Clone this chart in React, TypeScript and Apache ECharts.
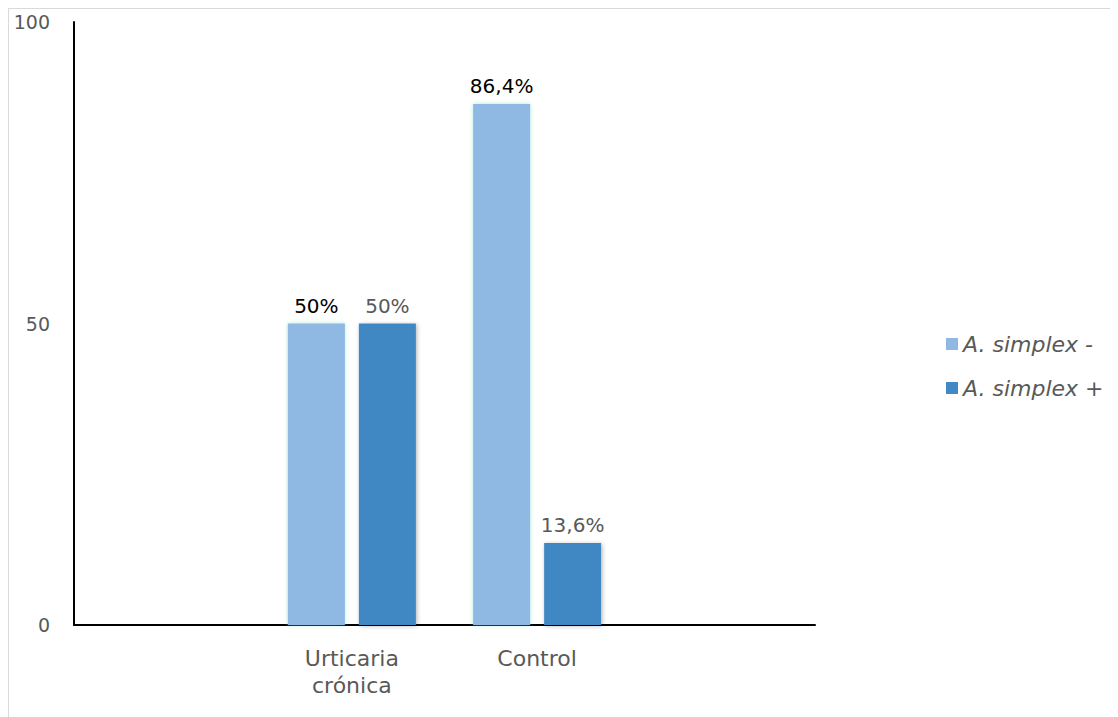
import React, { useEffect, useRef } from "react";
import * as echarts from "echarts";

const categories = ["", "Urticaria\ncrónica", "Control", ""];
const seriesNames = ["A. simplex -", "A. simplex +"];
const negValues: (number | null)[] = [null, 50, 86.4, null];
const posValues: (number | null)[] = [null, 50, 13.6, null];
const yTicks = { min: 0, max: 100, interval: 50 };

const FONT = "'DejaVu Sans', 'Noto Sans', sans-serif";

const fmt = (p: any) =>
  p.value == null ? "" : String(p.value).replace(".", ",") + "%";

export default function App() {
  const ref = useRef<HTMLDivElement>(null);
  useEffect(() => {
    if (!ref.current) return;
    const chart = echarts.init(ref.current, undefined, { renderer: "svg" });
    chart.setOption({
      animation: false,
      backgroundColor: "#ffffff",
      grid: { left: 65, top: 13, right: 303, bottom: 92, containLabel: false },
      legend: {
        orient: "vertical",
        left: 932,
        top: 318,
        itemWidth: 12,
        itemHeight: 12,
        itemGap: 20,
        icon: "rect",
        textStyle: {
          fontFamily: FONT,
          fontSize: 22,
          fontStyle: "italic",
          color: "#595959",
          lineHeight: 24,
        },
        data: seriesNames,
      },
      xAxis: {
        type: "category",
        data: categories,
        axisLine: { lineStyle: { color: "#000000", width: 2 } },
        axisTick: { show: false },
        axisLabel: {
          fontFamily: FONT,
          fontSize: 22,
          color: "#595959",
          lineHeight: 27,
          margin: 20,
          interval: 0,
        },
      },
      yAxis: {
        type: "value",
        min: yTicks.min,
        max: yTicks.max,
        interval: yTicks.interval,
        splitLine: { show: false },
        axisLine: { show: true, lineStyle: { color: "#000000", width: 2 } },
        axisTick: { show: false },
        axisLabel: {
          fontFamily: FONT,
          fontSize: 19,
          color: "#595959",
          margin: 24,
        },
      },
      series: [
        {
          name: seriesNames[0],
          type: "bar",
          data: negValues,
          barWidth: 57,
          barGap: "24.6%",
          itemStyle: {
            color: "#8FB8E3",
            shadowColor: "rgba(120,220,200,0.6)",
            shadowBlur: 4,
          },
          label: {
            show: true,
            position: "top",
            distance: 8,
            fontFamily: FONT,
            fontSize: 20,
            color: "#000000",
            formatter: fmt,
          },
        },
        {
          name: seriesNames[1],
          type: "bar",
          data: posValues,
          barWidth: 57,
          itemStyle: {
            color: "#4188C4",
            shadowColor: "rgba(0,0,0,0.3)",
            shadowBlur: 4,
            shadowOffsetX: 1,
            shadowOffsetY: 1,
          },
          label: {
            show: true,
            position: "top",
            distance: 8,
            fontFamily: FONT,
            fontSize: 20,
            color: "#595959",
            formatter: fmt,
          },
        },
      ],
    });
    return () => chart.dispose();
  }, []);
  return (
    <div
      style={{
        width: 1110,
        height: 709,
        borderTop: "1px solid #d9d9d9",
        borderLeft: "1px solid #d9d9d9",
        boxSizing: "border-box",
        position: "relative",
        background: "#fff",
      }}
    >
      <div
        ref={ref}
        style={{ position: "absolute", left: 0, top: 0, width: 1109, height: 708 }}
      />
    </div>
  );
}
